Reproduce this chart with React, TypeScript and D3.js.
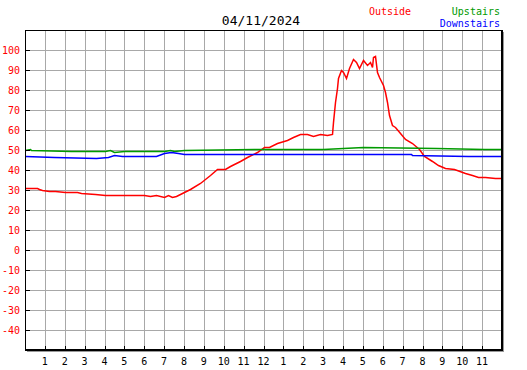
import React from "react";
import * as d3 from "d3";

const title = "04/11/2024";
const hourLabels = ["1","2","3","4","5","6","7","8","9","10","11","12","1","2","3","4","5","6","7","8","9","10","11"];
const yTicks = [100, 90, 80, 70, 60, 50, 40, 30, 20, 10, 0, -10, -20, -30, -40];

const outsideT = [0,0.6,0.7,0.85,1.2,1.5,2.0,2.6,2.8,3.5,4.0,4.5,5.0,5.5,6.0,6.3,6.6,7.0,7.2,7.4,7.6,7.8,8.0,8.3,8.8,9.3,9.65,10.05,10.3,10.8,11.15,11.66,12.0,12.3,12.66,13.2,13.5,13.84,14.2,14.5,14.84,15.18,15.45,15.51,15.6,15.68,15.77,15.88,16.0,16.15,16.3,16.5,16.65,16.8,17.0,17.2,17.36,17.44,17.5,17.6,17.7,17.8,18.0,18.1,18.2,18.33,18.45,18.6,18.87,19.1,19.46,19.8,20.1,20.46,20.8,21.13,21.6,22.14,22.5,22.8,23.15,23.65,23.95];
const outsideV = [31.2,31.2,30.7,30.0,29.5,29.5,29.0,29.0,28.3,28.0,27.5,27.5,27.3,27.5,27.3,27.0,27.5,26.7,27.3,26.7,27.0,28.0,29.0,30.5,33.3,37.5,40.3,40.3,42,44.7,46.3,49.2,51.3,51.7,53.7,55,56.3,58,58,57.2,57.8,57.5,58,64.2,74.2,80.8,85.8,90,89.2,86.2,90.8,95.5,94.2,91.2,95,92.5,94.2,91.7,96.7,97,89.2,86.7,82.5,79.2,74.2,67.5,62.5,61.7,58.5,55.5,53.3,50.5,47.2,44.5,42.5,40.8,40.3,38.3,37.5,36.5,36.7,36.2,35.8];

const upstairsT = [0,0.25,0.3,2.3,4.0,4.3,4.5,5.0,7.0,7.3,7.5,8.0,11.5,15.0,17.0,20.7,23.1,23.95];
const upstairsV = [50,50.4,50,49.4,49.4,49.8,48.9,49.3,49.4,49.9,49.4,49.8,50.3,50.7,51.4,50.9,50.4,50.4];

const downstairsT = [0,1.45,3.55,4.2,4.48,4.9,6.6,7.0,7.33,7.7,8.0,18.0,19.4,19.45,22.3,23.95];
const downstairsV = [47.2,46.6,45.8,46.5,47.7,47.2,47.2,48.7,49.0,48.3,48.1,48.0,47.8,47.3,46.9,46.9];

const series = [
  { name: "Outside", t: outsideT, v: outsideV, color: "#ff0000" },
  { name: "Upstairs", t: upstairsT, v: upstairsV, color: "#009a00" },
  { name: "Downstairs", t: downstairsT, v: downstairsV, color: "#0000ff" },
];

const L = 25, R = 502, T = 30, B = 350;
const mono = "'DejaVu Sans Mono', monospace";

export default function App() {
  const x = d3.scaleLinear().domain([0, 24]).range([L, R]);
  const y = d3.scaleLinear().domain([-50, 110]).range([B, T]);
  const hours = d3.range(1, 24);
  const line = d3.line<[number, number]>()
    .x(d => Math.round(x(d[0])) + 0.5)
    .y(d => Math.round(y(d[1])) + 0.5);

  return (
    <svg width={527} height={370} style={{ position: "fixed", left: 0, top: 0, background: "#fff" }}>
      <rect x={0} y={0} width={527} height={370} fill="#fff" />
      <g shapeRendering="crispEdges">
        {hours.map(h => (
          <line key={"v" + h} x1={Math.round(x(h)) + 0.5} x2={Math.round(x(h)) + 0.5} y1={T} y2={B} stroke="#a8a8a8" />
        ))}
        {yTicks.map(v => (
          <line key={"h" + v} x1={L} x2={R} y1={Math.round(y(v)) + 0.5} y2={Math.round(y(v)) + 0.5} stroke="#a8a8a8" />
        ))}
      </g>
      <g>
        {series.map(s => (
          <path key={s.name} d={line(s.t.map((t, i) => [t, s.v[i]] as [number, number])) || ""} fill="none" stroke={s.color} strokeWidth={1.5} />
        ))}
      </g>
      <g shapeRendering="crispEdges">
        {yTicks.map(v => (
          <line key={"yt" + v} x1={L} x2={L + 5} y1={Math.round(y(v)) + 0.5} y2={Math.round(y(v)) + 0.5} stroke="#000" />
        ))}
        {hours.map(h => (
          <line key={"xt" + h} x1={Math.round(x(h)) + 0.5} x2={Math.round(x(h)) + 0.5} y1={B - 4} y2={B} stroke="#000" />
        ))}
        <line x1={L + 0.5} x2={L + 0.5} y1={T} y2={B} stroke="#000" />
        <line x1={L} x2={R} y1={T + 0.5} y2={T + 0.5} stroke="#000" />
        <line x1={R} x2={R} y1={T} y2={B + 1} stroke="#000" strokeWidth={2} />
        <line x1={L} x2={R + 1} y1={B} y2={B} stroke="#000" strokeWidth={2} />
        <line x1={R + 1.5} x2={R + 1.5} y1={T + 2} y2={B + 2} stroke="#999" />
        <line x1={L + 2} x2={R + 2} y1={B + 1.5} y2={B + 1.5} stroke="#999" />
      </g>
      <g fontFamily={mono} fontSize={10}>
        {yTicks.map(v => (
          <text key={"yl" + v} x={20} y={y(v)} dy="0.35em" textAnchor="end" fill="#ff0000">{v}</text>
        ))}
        {hours.map((h, i) => (
          <text key={"xl" + h} x={x(h)} y={365} textAnchor="middle" fill="#000">{hourLabels[i]}</text>
        ))}
        <text x={369} y={15} fill="#ff0000">{series[0].name}</text>
        <text x={500} y={15} textAnchor="end" fill="#009a00">{series[1].name}</text>
        <text x={500} y={27} textAnchor="end" fill="#0000ff">{series[2].name}</text>
      </g>
      <text x={261} y={25} textAnchor="middle" fontFamily={mono} fontSize={13} fill="#000">{title}</text>
    </svg>
  );
}
